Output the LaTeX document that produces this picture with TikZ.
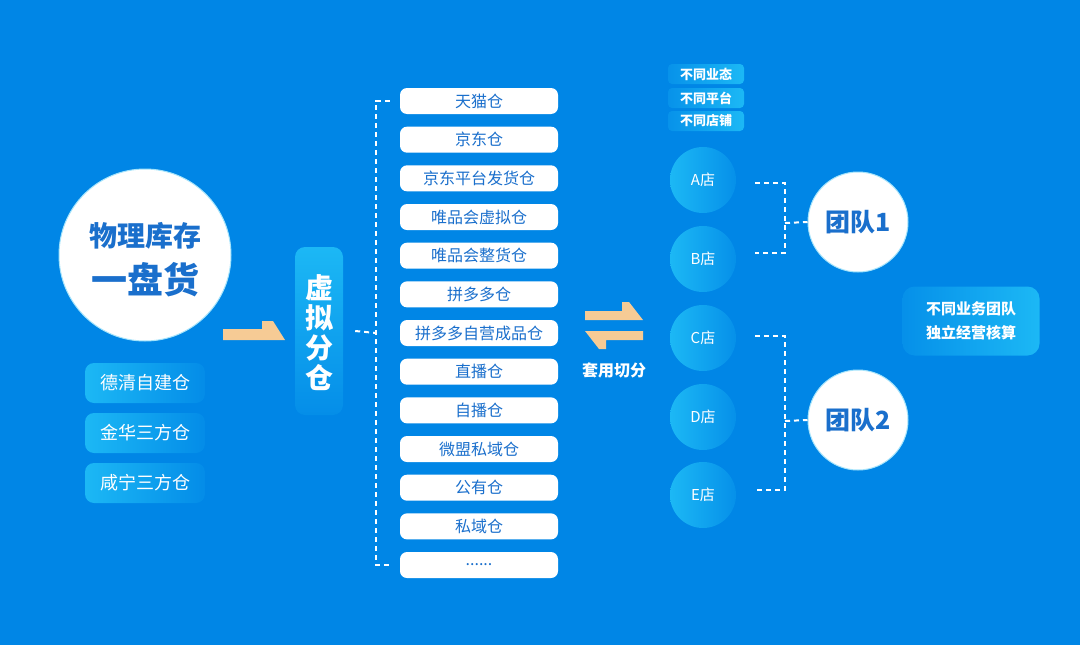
\documentclass[tikz,border=0pt]{standalone}
\usepackage{fontspec}
\setmainfont{Noto Sans CJK SC}
\definecolor{bg}{HTML}{0086E6}
\definecolor{cyanl}{HTML}{1CB8F5}
\definecolor{peach}{HTML}{F6CB95}
\definecolor{dblue}{HTML}{1A6FCC}
\newcommand{\mysixdots}{......}
\begin{document}
\begin{tikzpicture}[x=1pt,y=-1pt,
  fs/.style={font=\fontsize{#1}{#1}\selectfont},
  fsb/.style={font=\fontsize{#1}{#1}\selectfont\bfseries},
  listbox/.style={fill=white,rounded corners=7pt,minimum width=158pt,minimum height=26pt,inner sep=0pt,text=dblue,fs=16},
  whbox/.style={rounded corners=9pt,left color=cyanl,right color=bg!88!cyanl,minimum width=120pt,minimum height=40pt,inner sep=0pt,text=white,fs=18},
  tagbox/.style={rounded corners=4pt,left color=bg!75!cyanl,right color=cyanl,minimum width=76pt,minimum height=20pt,inner sep=0pt,text=white,fsb=13},
  shop/.style={circle,left color=cyanl,right color=bg!80!cyanl,minimum size=66pt,inner sep=0pt,text=white,fs=15},
  team/.style={circle,fill=white,draw=cyanl!40!white,line width=1pt,minimum size=100pt,inner sep=0pt,text=dblue,fsb=25},
  dsh/.style={draw=white,line width=2pt,dash pattern=on 5pt off 4pt},
  arr/.style={fill=peach}]
\useasboundingbox (0,0) rectangle (1080,645);
\fill[bg] (0,0) rectangle (1080,645);

% physical stock circle
\node[circle,fill=white,draw=cyanl!40!white,line width=1pt,minimum size=172pt] (phys) at (145,255) {};
\node[text=dblue,fsb=28] (phys1) at (145,236) {物理库存};
\node[text=dblue,fsb=36] (phys2) at (145,280) {一盘货};

% warehouses
\node[whbox] (w1) at (145,383) {德清自建仓};
\node[whbox] (w2) at (145,433) {金华三方仓};
\node[whbox] (w3) at (145,483) {咸宁三方仓};

% bent arrow
\fill[arr] (223,329) -- (262,329) -- (262,321) -- (273,321) -- (285,340) -- (223,340) -- cycle;

% virtual warehouse
\node[rounded corners=10pt,top color=cyanl,bottom color=bg!85!cyanl,minimum width=48pt,minimum height=168pt,inner sep=0pt] (vx) at (319,331) {};
\node[text=white,align=center,font=\fontsize{28}{30}\selectfont\bfseries] (vxt) at (319,333) {虚\\拟\\分\\仓};

% list
\foreach \t [count=\i] in {天猫仓,京东仓,京东平台发货仓,唯品会虚拟仓,唯品会整货仓,拼多多仓,拼多多自营成品仓,直播仓,自播仓,微盟私域仓,公有仓,私域仓,\mysixdots}
  \node[listbox] (l\i) at (479,{101+(\i-1)*38.67}) {\t};

\coordinate (bm) at (376,333);
\draw[dsh] ([xshift=-10pt]l1.west) -| (bm) |- ([xshift=-10pt]l13.west);
\draw[dsh] ([xshift=12pt]vx.east) -- (bm);

% swap arrows
\fill[arr] (585,311) -- (622,311) -- (622,302) -- (629,302) -- (643,320) -- (585,320) -- cycle;
\fill[arr] (643,331) -- (643,340) -- (606,340) -- (606,349) -- (599,349) -- (585,331) -- cycle;
\node[text=white,fsb=16] (swap) at (614,370) {套用切分};

% tags
\node[tagbox] (g1) at (706,74) {不同业态};
\node[tagbox] (g2) at (706,98) {不同平台};
\node[tagbox] (g3) at (706,121) {不同店铺};

% shops
\node[shop] (A) at (703,180) {A店};
\node[shop] (B) at (703,259) {B店};
\node[shop] (C) at (703,338) {C店};
\node[shop] (D) at (703,417) {D店};
\node[shop] (E) at (703,495) {E店};

% teams
\node[team] (T1) at (858,222) {团队1};
\node[team] (T2) at (858,420) {团队2};

\coordinate (t1m) at (785,223);
\coordinate (t2m) at (785,421);
\draw[dsh] ([shift={(19pt,-3pt)}]A.east) -| (t1m) |- ([shift={(19pt,6pt)}]B.east);
\draw[dsh] (t1m) -- (T1.west);
\draw[dsh] ([shift={(19pt,2pt)}]C.east) -| (t2m) |- ([shift={(19pt,5pt)}]E.east);
\draw[dsh] (t2m) -- (T2.west);

% team box
\node[rounded corners=12pt,left color=bg!80!cyanl,right color=cyanl,minimum width=137pt,minimum height=69pt,inner sep=0pt,text=white,align=center,font=\fontsize{15}{24}\selectfont\bfseries] (tb) at (971,321) {不同业务团队\\独立经营核算};
\end{tikzpicture}
\end{document}
